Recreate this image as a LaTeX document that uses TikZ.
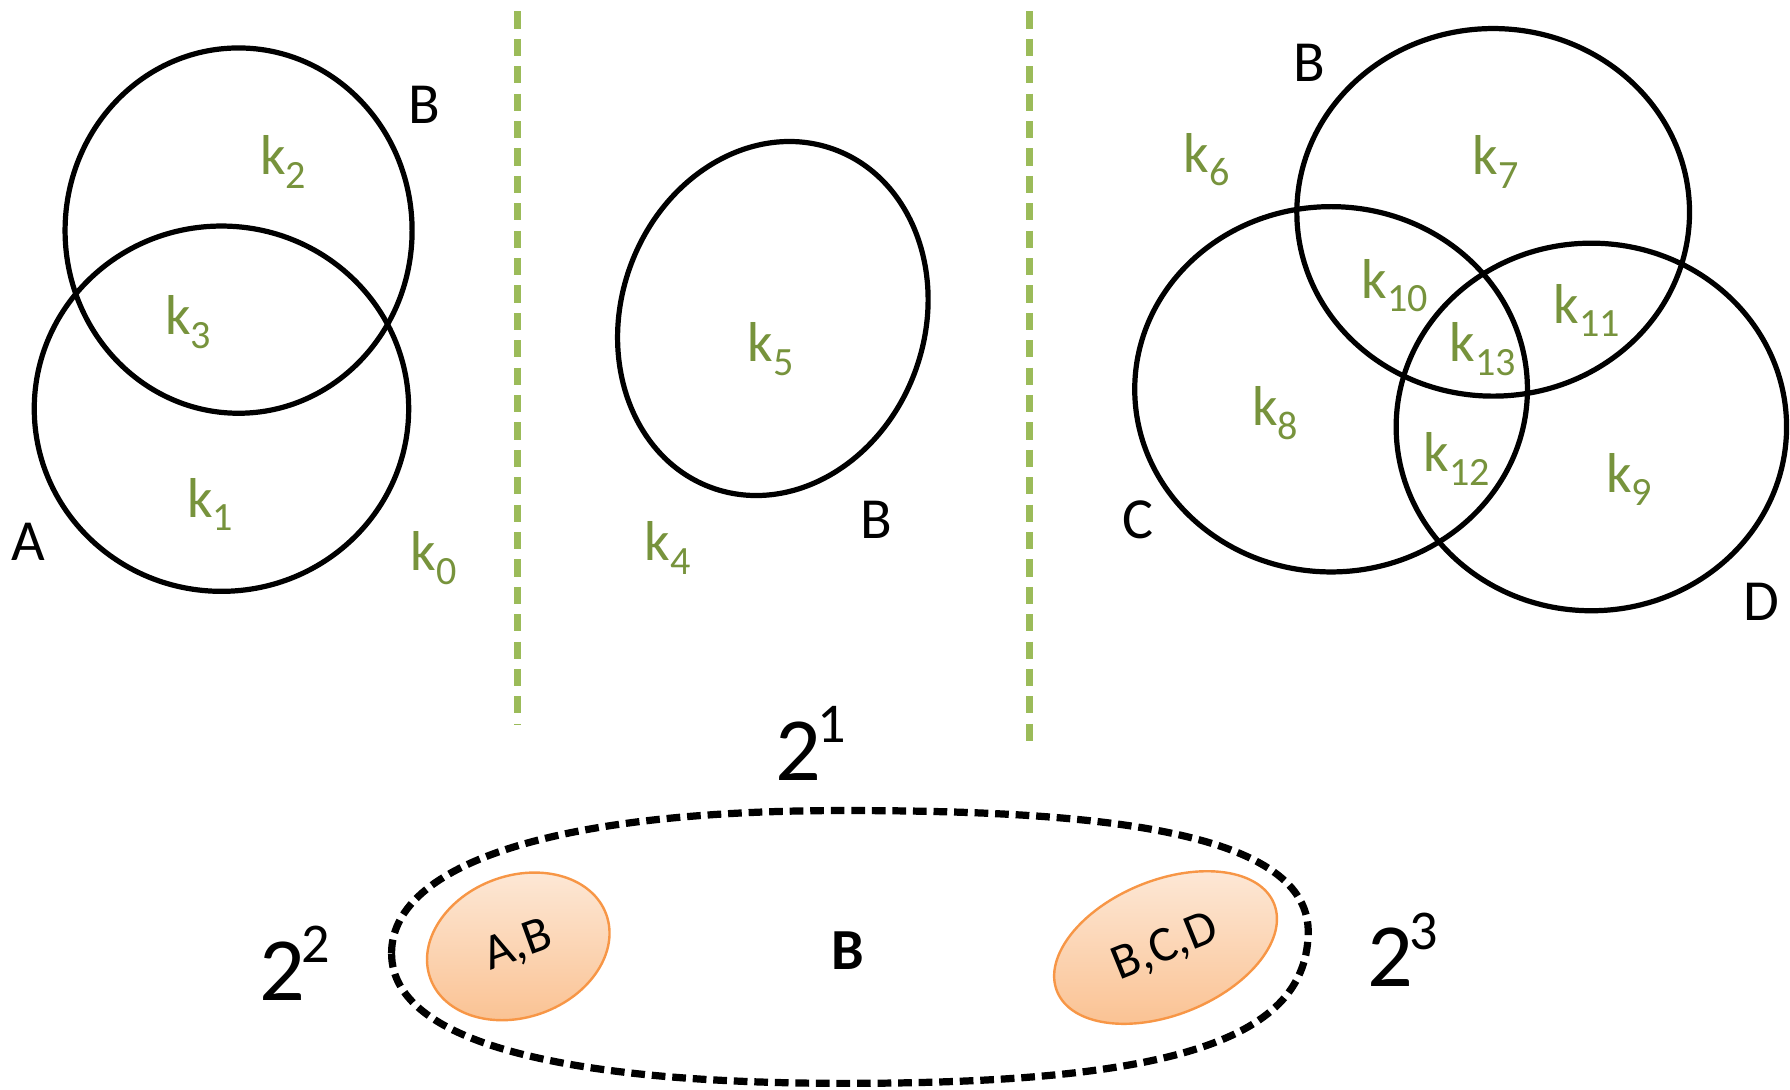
\documentclass[tikz,border=0pt]{standalone}
\usepackage{fontspec}
\setmainfont{Carlito}
\usetikzlibrary{shapes.geometric}
\definecolor{ink}{HTML}{000000}
\definecolor{olive}{HTML}{77933C}
\definecolor{divide}{HTML}{9BBB59}
\definecolor{peach}{HTML}{F79646}
\definecolor{peachtop}{HTML}{FDEADA}
\definecolor{peachbot}{HTML}{FAC08F}
\newcommand{\lblfont}{\fontsize{14.5}{17}\selectfont}
\newcommand{\subfont}{\fontsize{10}{12}\selectfont}
\newcommand{\powfont}{\fontsize{22.5}{26}\selectfont}
\newcommand{\ksub}[1]{k\raisebox{-0.5ex}{\subfont #1}}
\newcommand{\pow}[1]{2\kern-0.04em\raisebox{0.42em}{\fontsize{14}{16}\selectfont #1}}

\begin{document}
\begin{tikzpicture}[x=0.1mm,y=-0.1mm,font=\lblfont,
  ring/.style={ink,line width=1.3pt},
  setname/.style={inner sep=0,text=ink},
  region/.style={inner sep=0,text=olive,font=\fontsize{14}{17}\selectfont},
  split/.style={divide,line width=1.7pt,dash pattern=on 1.5mm off 0.9mm},
  group/.style={ellipse,draw=peach,line width=0.6pt,top color=peachtop,bottom color=peachbot,inner sep=0,font=\fontsize{12.5}{14}\selectfont}]
\useasboundingbox (0,0) rectangle (1568,954);
% left panel
\draw[ring] (209,202) ellipse [x radius=152,y radius=160];
\draw[ring] (194,358) ellipse [x radius=164,y radius=160];
\node[setname] (lb) at (372,92) {B};
\node[setname] (la) at (25,475) {A};
\node[region] (k2) at (248,142) {\ksub{2}};
\node[region] (k3) at (165,282) {\ksub{3}};
\node[region] (k1) at (184,442) {\ksub{1}};
\node[region] (k0) at (380,489) {\ksub{0}};
\draw[split] (453,10) -- (453,635);
% middle panel
\draw[ring,rotate around={-19.6:(677,279)}] (677,279) ellipse [x radius=133,y radius=157.6];
\node[setname] (mb) at (768,455) {B};
\node[region] (k5) at (675,306) {\ksub{5}};
\node[region] (k4) at (585,480) {\ksub{4}};
\draw[split] (902,10) -- (902,652);
% right panel
\draw[ring] (1308,186) ellipse [x radius=172,y radius=161];
\draw[ring] (1166,341) ellipse [x radius=172,y radius=160];
\draw[ring] (1394,374) ellipse [x radius=171,y radius=161];
\node[setname] (rb) at (1147,55) {B};
\node[setname] (rc) at (997,455) {C};
\node[setname] (rd) at (1543,527) {D};
\node[region] (k6) at (1057,140) {\ksub{6}};
\node[region] (k7) at (1310,142) {\ksub{7}};
\node[region] (k10) at (1222,250) {\ksub{10}};
\node[region] (k11) at (1390,272) {\ksub{11}};
\node[region] (k13) at (1299,306) {\ksub{13}};
\node[region] (k8) at (1117,362) {\ksub{8}};
\node[region] (k12) at (1276,402) {\ksub{12}};
\node[region] (k9) at (1427,420) {\ksub{9}};
% bottom
\node[inner sep=0,font=\powfont] (p1) at (710,651) {\pow{1}};
\node[inner sep=0,font=\powfont] (p2) at (258,844) {\pow{2}};
\node[inner sep=0,font=\powfont] (p3) at (1229,832) {\pow{3}};
\draw[ink,line width=1.8pt,dash pattern=on 1.2mm off 0.6mm] (343,835) .. controls (343,762) and (470,710) .. (739,710)
  .. controls (950,710) and (1144,725) .. (1146,815)
  .. controls (1146,910) and (1030,949) .. (740,949)
  .. controls (520,949) and (343,920) .. cycle;
\node[group,minimum width=16.4mm,minimum height=12.4mm,rotate=20] (ab) at (454,829) {A,B};
\node[group,minimum width=20.5mm,minimum height=11.8mm,rotate=22] (bcd) at (1021,830) {B,C,D};
\node[inner sep=0,font=\fontsize{14.5}{16}\selectfont\bfseries] (mid) at (743,833) {B};
\end{tikzpicture}
\end{document}
